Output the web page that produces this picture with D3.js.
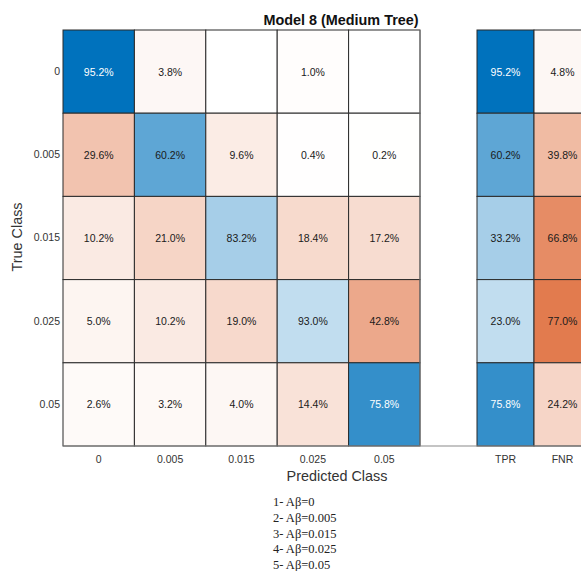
<!DOCTYPE html>
<html>
<head>
<meta charset="utf-8">
<script src="https://cdn.jsdelivr.net/npm/d3@7"></script>
<style>
  html, body { margin: 0; padding: 0; background: #fff; }
  svg { display: block; font-family: "Liberation Sans", Arial, Helvetica, sans-serif; }
</style>
</head>
<body>
<svg id="chart" width="581" height="571"></svg>
<script>
// Class labels (Aβ levels)
const classes = ["0", "0.005", "0.015", "0.025", "0.05"];

// Confusion matrix percentages, one row per true class (null = empty cell)
const row0     = [95.2, 3.8, null, 1.0, null];
const row0005  = [29.6, 60.2, 9.6, 0.4, 0.2];
const row0015  = [10.2, 21.0, 83.2, 18.4, 17.2];
const row0025  = [5.0, 10.2, 19.0, 93.0, 42.8];
const row005   = [2.6, 3.2, 4.0, 14.4, 75.8];
const matrix = [row0, row0005, row0015, row0025, row005];

// Per-class summary
const summaryCols = ["TPR", "FNR"];
const tpr = [95.2, 60.2, 33.2, 23.0, 75.8];
const fnr = [4.8, 39.8, 66.8, 77.0, 24.2];

const legendLines = ["1- Aβ=0", "2- Aβ=0.005", "3- Aβ=0.015", "4- Aβ=0.025", "5- Aβ=0.05"];

const svg = d3.select("#chart");

const x = d3.scaleBand().domain(classes).range([63, 420]);
const y = d3.scaleBand().domain(classes).range([30, 446]);
const xs = d3.scaleBand().domain(summaryCols).range([477, 591]);

// white -> MATLAB blue for correct, white -> MATLAB red for errors
const blue = d3.scaleLinear().domain([0, d3.max(tpr)]).range(["#ffffff", "#0072BD"]).clamp(true);
const red = d3.scaleLinear().domain([0, 85]).range(["#ffffff", "#D95319"]).clamp(true);
const redSummary = d3.scaleLinear().domain([0, 100]).range(["#ffffff", "#D95319"]).clamp(true);

const fmt = v => v.toFixed(1) + "%";
const textColor = (isBlue, frac) => (isBlue && frac > 0.7) ? "#ffffff" : "#1a1a1a";

// Main grid cells
const cells = [];
matrix.forEach((row, i) => row.forEach((v, j) => cells.push({ r: classes[i], c: classes[j], v, diag: i === j, tp: tpr[i] })));

const g = svg.append("g");
g.selectAll("rect.cell").data(cells).join("rect")
  .attr("class", "cell")
  .attr("x", d => x(d.c)).attr("y", d => y(d.r))
  .attr("width", x.bandwidth()).attr("height", y.bandwidth())
  .attr("fill", d => d.v == null ? "#ffffff" : (d.diag ? blue(d.tp) : red(d.v)))
  .attr("stroke", "#2b2b2b").attr("stroke-width", 1);

g.selectAll("text.val").data(cells.filter(d => d.v != null)).join("text")
  .attr("class", "val")
  .attr("x", d => x(d.c) + x.bandwidth() / 2)
  .attr("y", d => y(d.r) + y.bandwidth() / 2)
  .attr("text-anchor", "middle").attr("dominant-baseline", "central")
  .attr("font-size", "10.5px")
  .attr("fill", d => textColor(d.diag, d.diag ? d.tp / d3.max(tpr) : 0))
  .text(d => fmt(d.v));

// Summary panel (TPR / FNR)
const sCells = [];
classes.forEach((c, i) => {
  sCells.push({ r: c, c: "TPR", v: tpr[i], isBlue: true });
  sCells.push({ r: c, c: "FNR", v: fnr[i], isBlue: false });
});
const gs = svg.append("g");
gs.selectAll("rect").data(sCells).join("rect")
  .attr("x", d => xs(d.c)).attr("y", d => y(d.r))
  .attr("width", xs.bandwidth()).attr("height", y.bandwidth())
  .attr("fill", d => d.isBlue ? blue(d.v) : redSummary(d.v))
  .attr("stroke", "#2b2b2b").attr("stroke-width", 1);
gs.selectAll("text").data(sCells).join("text")
  .attr("x", d => xs(d.c) + xs.bandwidth() / 2)
  .attr("y", d => y(d.r) + y.bandwidth() / 2)
  .attr("text-anchor", "middle").attr("dominant-baseline", "central")
  .attr("font-size", "10.5px")
  .attr("fill", d => textColor(d.isBlue, d.v / d3.max(tpr)))
  .text(d => fmt(d.v));

// Baseline under both panels
svg.append("line")
  .attr("x1", 63).attr("x2", 581).attr("y1", 446).attr("y2", 446)
  .attr("stroke", "#8a8a8a").attr("stroke-width", 1.2);
// Right edge of the main axes
svg.append("line")
  .attr("x1", 420).attr("x2", 420).attr("y1", 30).attr("y2", 446)
  .attr("stroke", "#7a7a7a").attr("stroke-width", 1);

// Axes (tick labels only)
const styleAxis = sel => {
  sel.select(".domain").remove();
  sel.selectAll(".tick line").remove();
  sel.selectAll(".tick text").attr("fill", "#333").attr("font-size", "10.5px")
    .attr("font-family", "'Liberation Sans', Arial, sans-serif");
};
svg.append("g").attr("transform", "translate(0,446)")
  .call(d3.axisBottom(x).tickSize(0).tickPadding(10)).call(styleAxis);
svg.append("g").attr("transform", "translate(0,446)")
  .call(d3.axisBottom(xs).tickSize(0).tickPadding(10)).call(styleAxis);
svg.append("g").attr("transform", "translate(63,0)")
  .call(d3.axisLeft(y).tickSize(0).tickPadding(3)).call(styleAxis);

// Titles
svg.append("text").attr("x", 341).attr("y", 25).attr("text-anchor", "middle")
  .attr("font-size", "14.4px").attr("font-weight", "bold").attr("fill", "#111")
  .text("Model 8 (Medium Tree)");
svg.append("text").attr("x", 337).attr("y", 481).attr("text-anchor", "middle")
  .attr("font-size", "14.4px").attr("fill", "#333")
  .text("Predicted Class");
svg.append("text").attr("transform", "translate(22,237) rotate(-90)").attr("text-anchor", "middle")
  .attr("font-size", "14.4px").attr("fill", "#333")
  .text("True Class");

// Class key
svg.append("g").selectAll("text").data(legendLines).join("text")
  .attr("x", 273).attr("y", (d, i) => 506 + i * 15.8)
  .attr("font-family", "'Liberation Serif', 'Times New Roman', serif")
  .attr("font-size", "12.5px").attr("fill", "#222")
  .text(d => d);
</script>
</body>
</html>
